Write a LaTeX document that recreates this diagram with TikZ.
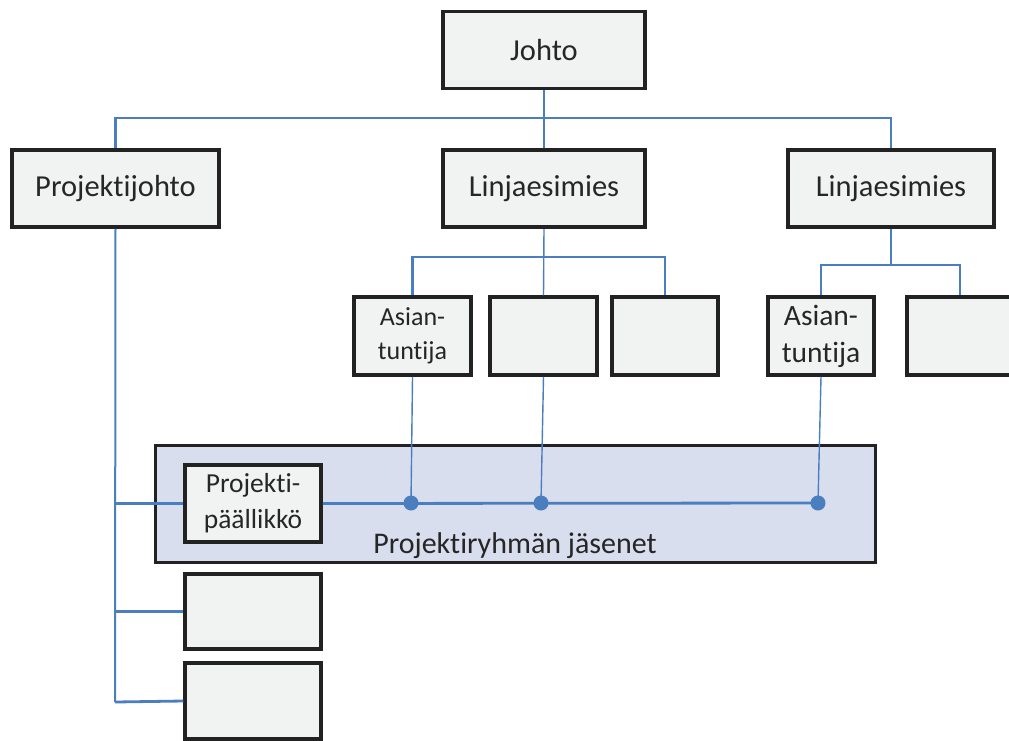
\documentclass[tikz,border=0pt]{standalone}
\usepackage{fontspec}
\setmainfont{Carlito}[Ligatures={NoCommon}]
\definecolor{boxfill}{HTML}{F1F2F2}
\definecolor{boxline}{HTML}{222222}
\definecolor{linkblue}{HTML}{4A7EBF}
\definecolor{bandfill}{HTML}{D9DEEF}
\definecolor{textgray}{HTML}{262626}
\tikzset{
  orgbox/.style={draw=boxline, line width=3.5pt, fill=boxfill, text=textgray,
    inner sep=0pt, align=center, font=\fontsize{30.5}{32}\selectfont},
  thinlink/.style={draw=linkblue, line width=1.4pt},
  thicklink/.style={draw=linkblue, line width=2.8pt},
  memberdot/.style={circle, fill=linkblue, inner sep=0pt, minimum size=15pt},
}
\begin{document}
\begin{tikzpicture}[x=1pt,y=-1pt]
\clip (0,0) rectangle (1009,740);
\fill[white] (0,0) rectangle (1009,740);

% project team band
\node[draw=boxline, line width=3pt, fill=bandfill, minimum width=720pt, minimum height=117pt, inner sep=0pt] (band) at (515.5,504) {};
\node[text=textgray, font=\fontsize{30}{32}\selectfont, anchor=base] (bandlabel) at (515,553) {Projektiryhmän jäsenet};

% connectors
\coordinate (topbus) at (544,118);
\coordinate (busjoin) at (560,118);
\coordinate (bracketA) at (544,257);
\coordinate (bracketB) at (891,265);
\coordinate (pjend) at (115,702);
\coordinate (d1) at (411,503);
\coordinate (d2) at (541,503);
\coordinate (d3) at (818,503);

% boxes
\node[orgbox, minimum width=202pt, minimum height=77pt] (johto) at (544,50) {Johto};
\node[orgbox, minimum width=207pt, minimum height=77pt] (pjohto) at (115.5,188.5) {Projektijohto};
\node[orgbox, minimum width=202pt, minimum height=77pt] (lin1) at (544,188.5) {Linjaesimies};
\node[orgbox, minimum width=206pt, minimum height=77pt] (lin2) at (891,188.5) {Linjaesimies};
\node[orgbox, minimum width=117pt, minimum height=78pt, font=\fontsize{26}{34}\selectfont] (asian1) at (412.5,336) {Asian-\\tuntija};
\node[orgbox, minimum width=107pt, minimum height=78pt] (box2) at (543.5,336) {};
\node[orgbox, minimum width=106pt, minimum height=78pt] (box3) at (665,336) {};
\node[orgbox, minimum width=106pt, minimum height=78pt, font=\fontsize{29.5}{37}\selectfont] (asian2) at (821,336) {Asian-\\tuntija};
\node[orgbox, minimum width=106pt, minimum height=78pt] (box5) at (960,336) {};
\node[orgbox, minimum width=136pt, minimum height=77pt, font=\fontsize{27.5}{36}\selectfont] (pp) at (253,503.5) {Projekti-\\päällikkö};
\node[orgbox, minimum width=136pt, minimum height=75pt] (boxA) at (253,611.5) {};
\node[orgbox, minimum width=136pt, minimum height=76pt] (boxB) at (253,701) {};

% top level
\draw[thinlink] (johto.south) -- (lin1.north);
\draw[thicklink] (pjohto.north) |- (busjoin);
\draw[thinlink] (busjoin) -| (lin2.north);

% first line manager
\draw[thinlink] (lin1.south) -- (box2.north);
\draw[thicklink] (asian1.north) |- (bracketA) -| (box3.north);

% second line manager
\draw[thicklink] (lin2.south) -- (bracketB);
\draw[thicklink] (asian2.north) |- (bracketB) -| (box5.north);

% project management branch
\draw[thinlink, line width=2pt] (pjohto.south) -- (pjend);
\draw[thicklink] (pjend) -- (boxB.west);
\draw[thicklink] (pjohto.south |- boxA.west) -- (boxA.west);
\draw[thicklink] (pjohto.south |- pp.west) -- (pp.west);

% team members
\draw[thicklink] (pp.east) -- (d3);
\draw[thinlink] (asian1.south) -- (d1);
\draw[thinlink] (box2.south) -- (d2);
\draw[thinlink] (asian2.south) -- (d3);
\node[memberdot] (m1) at (d1) {};
\node[memberdot] (m2) at (d2) {};
\node[memberdot] (m3) at (d3) {};
\end{tikzpicture}
\end{document}
